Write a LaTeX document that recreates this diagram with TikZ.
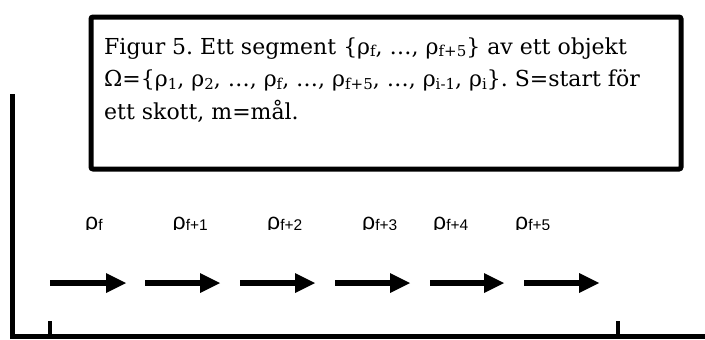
\documentclass[tikz,border=0pt]{standalone}
\usepackage{fontspec}
\setmainfont{DejaVu Serif}
\newfontfamily\labfont{Liberation Sans}
\usetikzlibrary{arrows.meta}
\frenchspacing
\newcommand\lowsub[1]{\raisebox{-0.22ex}{\fontsize{15}{15}\selectfont #1}}
\newcommand\rholab[1]{{\fontsize{23}{23}\selectfont ρ}\raisebox{-1pt}{\fontsize{15.5}{15.5}\selectfont #1}}
\tikzset{
  frame/.style={draw, line width=5pt, rounded corners=2pt},
  capline/.style={anchor=base west, inner sep=0pt, font=\fontsize{22}{28}\selectfont},
  lab/.style={anchor=base west, inner sep=0pt, font=\labfont},
  segarrow/.style={line width=5.5pt, -{Triangle[length=20pt 0 0,width=20pt 0 0,line width=0pt 0 0]}},
  axis/.style={line width=5pt},
  tick/.style={line width=4pt},
}
\begin{document}
\begin{tikzpicture}[x=1pt,y=-1pt]
\useasboundingbox (0,0) rectangle (705,340);
% caption box
\node[frame, minimum width=590pt, minimum height=152pt, anchor=north west] (box) at (88.5,14.5) {};
\node[capline] (cap1) at (104,54) {Figur 5. Ett segment \{ρ\lowsub{f}, …, ρ\lowsub{f+5}\} av ett objekt};
\node[capline] (cap2) at (104,86.5) {Ω=\{ρ\lowsub{1}, ρ\lowsub{2}, …, ρ\lowsub{f}, …, ρ\lowsub{f+5}, …, ρ\lowsub{i-1}, ρ\lowsub{i}\}. S=start för};
\node[capline] (cap3) at (104,119) {ett skott, m=mål.};
% axes
\coordinate (top) at (12.5,94);
\coordinate (corner) at (12.5,336.5);
\coordinate (right) at (705,336.5);
\draw[axis] (top) -- (corner) -- (right);
\coordinate (s1) at (50,321); \coordinate (s1b) at (50,336.5);
\coordinate (m1) at (618,321); \coordinate (m1b) at (618,336.5);
\draw[tick] (s1) -- (s1b);
\draw[tick] (m1) -- (m1b);
% labels (clipped at the bottom as in the source)
\begin{scope}
\clip (0,150) rectangle (705,229.5);
\node[lab] (l0) at (85,229.5) {\rholab{f}};
\node[lab] (l1) at (172.5,229.5) {\rholab{f+1}};
\node[lab] (l2) at (267,229.5) {\rholab{f+2}};
\node[lab] (l3) at (362,229.5) {\rholab{f+3}};
\node[lab] (l4) at (433,229.5) {\rholab{f+4}};
\node[lab] (l5) at (515,229.5) {\rholab{f+5}};
\end{scope}
% arrows
\foreach \i/\a/\b in {1/50/126,2/145/220,3/240/315,4/335/410,5/430/504,6/524/599}{
  \coordinate (a\i) at (\a,283);
  \coordinate (b\i) at (\b,283);
  \draw[segarrow] (a\i) -- (b\i);
}
\end{tikzpicture}
\end{document}
